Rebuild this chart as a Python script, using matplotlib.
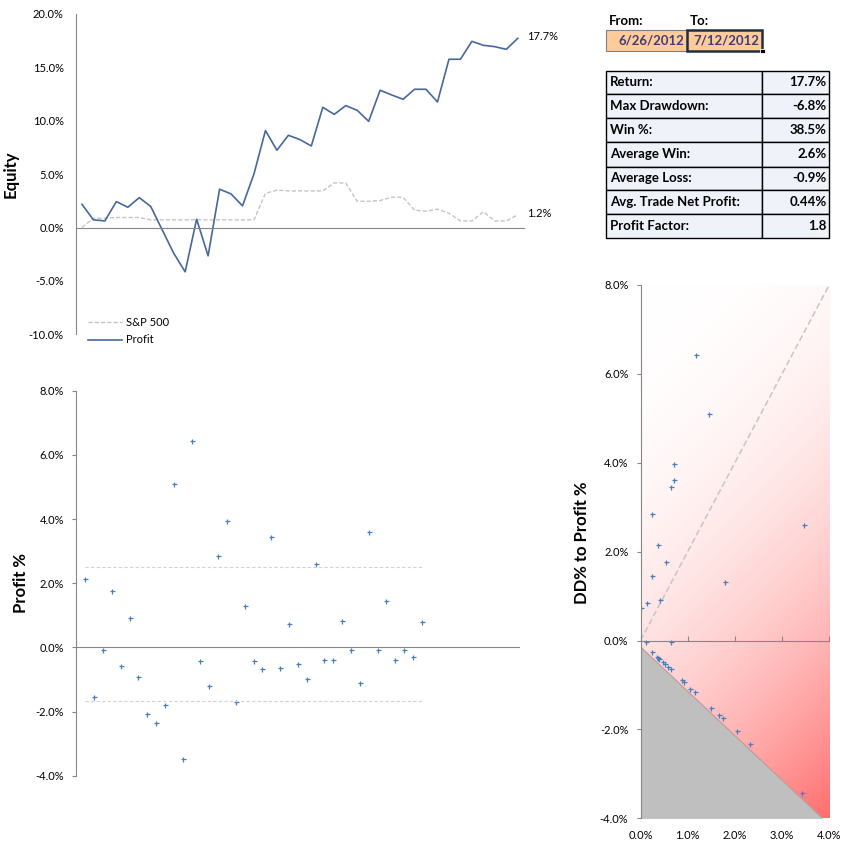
import numpy as np
import matplotlib.pyplot as plt
from matplotlib.patches import Rectangle
from matplotlib.ticker import FuncFormatter, MultipleLocator, FixedLocator

plt.rcParams['font.family'] = ['Lato', 'DejaVu Sans']

# ---- data ----
days = np.arange(39)
profit_equity = [2.18, 0.72, 0.62, 2.43, 1.90, 2.80, 1.97, -0.22, -2.40, -4.15,
                 0.78, -2.65, 3.59, 3.15, 2.03, 5.02, 9.08, 7.24, 8.64, 8.24,
                 7.64, 11.26, 10.60, 11.42, 10.98, 9.95, 12.86, 12.42, 12.01, 12.95,
                 12.95, 11.76, 15.76, 15.76, 17.44, 17.07, 16.94, 16.69, 17.72]
sp500_equity = [0.00, 0.87, 0.87, 0.94, 0.94, 0.94, 0.72, 0.72, 0.72, 0.72,
                0.72, 0.72, 0.72, 0.72, 0.72, 0.72, 3.20, 3.50, 3.43, 3.43,
                3.43, 3.43, 4.18, 4.18, 2.46, 2.46, 2.53, 2.84, 2.84, 1.62,
                1.53, 1.72, 1.34, 0.62, 0.62, 1.47, 0.62, 0.62, 1.19]
end_labels = ['17.7%', '1.2%']

trade_no = np.arange(1, 40)
trade_profit = [2.14, -1.54, -0.07, 1.77, -0.57, 0.93, -0.92, -2.07, -2.35, -1.79,
                5.08, -3.48, 6.42, -0.42, -1.20, 2.86, 3.95, -1.70, 1.30, -0.42,
                -0.67, 3.45, -0.63, 0.74, -0.51, -0.98, 2.61, -0.39, -0.39, 0.83,
                -0.07, -1.10, 3.61, -0.07, 1.46, -0.39, -0.07, -0.29, 0.80]
band_upper = 2.49
band_lower = -1.66

dd_x = [0.02, 0.145, 0.25, 0.25, 0.38, 0.41, 0.55, 0.65, 0.72, 0.72, 1.18, 1.46, 1.78, 3.47,
        0.12, 0.65,
        0.25, 0.35, 0.38, 0.40, 0.48, 0.52, 0.59, 0.65, 0.88, 0.93, 1.05, 1.16,
        1.50, 1.67, 1.75, 2.05, 2.33, 3.43]
dd_y = [0.74, 0.85, 1.45, 2.85, 2.15, 0.92, 1.77, 3.46, 3.98, 3.62, 6.43, 5.10, 1.31, 2.60,
        -0.04, -0.04,
        -0.26, -0.37, -0.39, -0.41, -0.49, -0.53, -0.60, -0.65, -0.89, -0.94, -1.08, -1.16,
        -1.52, -1.68, -1.75, -2.04, -2.33, -3.42]
floor_x = [0.0, 3.86]
floor_y = [-0.14, -4.0]
ratio_x = [0.0, 4.0]
ratio_y = [0.0, 8.0]
dd_ticks = [0, 1, 2, 3, 4]

date_from = '6/26/2012'
date_to = '7/12/2012'
stat_labels = ['Return:', 'Max Drawdown:', 'Win %:', 'Average Win:',
               'Average Loss:', 'Avg. Trade Net Profit:', 'Profit Factor:']
stat_values = ['17.7%', '-6.8%', '38.5%', '2.6%', '-0.9%', '0.44%', '1.8']

# ---- layout ----
FW, FH = 855, 851
fig = plt.figure(figsize=(FW / 100, FH / 100), dpi=100)


def px_axes(left, top, right, bottom, **kw):
    return fig.add_axes([left / FW, 1 - bottom / FH, (right - left) / FW, (bottom - top) / FH], **kw)


pct = FuncFormatter(lambda v, p: f'{v:.1f}%')
axis_grey = '#868686'
blue_line = '#46689C'
blue_mark = '#4A7EBB'
tick_fs = 8


def style_axes(ax):
    for s in ['top', 'right']:
        ax.spines[s].set_visible(False)
    for s in ['left', 'bottom']:
        ax.spines[s].set_color(axis_grey)
    ax.yaxis.set_major_formatter(pct)
    ax.tick_params(axis='y', colors=axis_grey, labelcolor='black', labelsize=tick_fs)


# equity chart
ax1 = px_axes(76.2, 14, 523.5, 334.3)
style_axes(ax1)
ax1.plot(days, sp500_equity, color='#C4C4C4', lw=1.0, ls=(0, (3, 1.5)), label='S&P 500')
ax1.plot(days, profit_equity, color=blue_line, lw=1.2, label='Profit')
ax1.set_xlim(-0.5, 38.5)
ax1.set_ylim(-10, 20)
ax1.yaxis.set_major_locator(MultipleLocator(5))
ax1.spines['bottom'].set_position(('data', 0))
ax1.set_xticks([])
ax1.tick_params(axis='y', length=0, pad=9)
ax1.set_ylabel('Equity', fontsize=12, fontweight='bold')
ax1.yaxis.set_label_coords(-0.129, 0.5)
for series, lab in zip([profit_equity, sp500_equity], end_labels):
    ax1.annotate(lab, xy=(days[-1], series[-1]), xytext=(7, 1), textcoords='offset points',
                 ha='left', va='center', fontsize=tick_fs)
ax1.legend(loc='center left', bbox_to_anchor=(88 / FW, 1 - 331.4 / FH), bbox_transform=fig.transFigure,
           frameon=False, fontsize=tick_fs, handlelength=3.1, handletextpad=0.35,
           labelspacing=0.55, borderpad=0, borderaxespad=0)

# trade profit scatter
ax2 = px_axes(76.4, 390.7, 519.3, 775.7)
style_axes(ax2)
ax2.plot(trade_no, trade_profit, ls='none', marker='+', ms=3.6, mew=0.9, color=blue_mark)
ax2.hlines([band_upper, band_lower], trade_no[0], trade_no[-1], colors='#D2D2D2', lw=0.8,
           linestyles=[(0, (3, 2))])
ax2.set_xlim(0, 50)
ax2.set_ylim(-4, 8)
ax2.yaxis.set_major_locator(MultipleLocator(2))
ax2.spines['bottom'].set_position(('data', 0))
ax2.set_xticks([])
ax2.tick_params(axis='y', direction='out', length=2.8, pad=6)
ax2.set_ylabel('Profit %', fontsize=12, fontweight='bold')
ax2.yaxis.set_label_coords(-0.107, 0.5)

# drawdown vs profit
ax3 = px_axes(640.5, 284.8, 829.3, 818.4)
style_axes(ax3)
gw, gh = 829.3 - 640.5, 818.4 - 284.8
u, v = np.meshgrid(np.linspace(0, 1, 200), np.linspace(0, 1, 500))
t = ((u * gw + v * gh) / (gw + gh)) ** 2.3
img = np.ones((500, 200, 3))
img[..., 1] = 1 - t * 0.57
img[..., 2] = 1 - t * 0.57
ax3.imshow(img, extent=[0, 4, -4, 8], origin='upper', aspect='auto', interpolation='bilinear', zorder=0)
ax3.fill_between(floor_x, floor_y, -4, color='#BFBFBF', lw=0, zorder=1)
ax3.plot(floor_x, floor_y, color='#C09A9A', lw=0.8, zorder=1.5)
ax3.plot(ratio_x, ratio_y, color='#C8C4C4', lw=1.1, ls=(0, (4, 2)), zorder=2)
ax3.plot(dd_x, dd_y, ls='none', marker='+', ms=3.6, mew=0.9, color=blue_mark, zorder=3)
ax3.set_xlim(0, 4)
ax3.set_ylim(-4, 8)
ax3.yaxis.set_major_locator(MultipleLocator(2))
ax3.xaxis.set_major_locator(FixedLocator(dd_ticks))
ax3.spines['bottom'].set_position(('data', 0))
ax3.spines['bottom'].set_zorder(4)
ax3.spines['left'].set_zorder(4)
ax3.tick_params(axis='y', direction='out', length=3.2, pad=5.5)
ax3.tick_params(axis='x', direction='in', length=3.4, colors=axis_grey, labelbottom=False)
sec = ax3.secondary_xaxis(0)
sec.xaxis.set_major_locator(FixedLocator(dd_ticks))
sec.xaxis.set_major_formatter(pct)
sec.spines['bottom'].set_visible(False)
sec.tick_params(axis='x', length=0, pad=8, labelsize=tick_fs)
ax3.set_ylabel('DD% to Profit %', fontsize=12, fontweight='bold')
ax3.yaxis.set_label_coords(-0.269, 0.516)

# date inputs and stats table (pixel coordinates)
axt = fig.add_axes([0, 0, 1, 1], zorder=-1)
axt.set_xlim(0, FW)
axt.set_ylim(FH, 0)
axt.axis('off')
tfs = 9.5
axt.text(609.3, 21.3, 'From:', fontsize=tfs, fontweight='bold', va='center')
axt.text(690, 21.3, 'To:', fontsize=tfs, fontweight='bold', va='center')
axt.add_patch(Rectangle((606, 30), 80.7, 20.7, facecolor='#FFCC99', edgecolor='#7F7F7F', lw=0.8))
axt.add_patch(Rectangle((686.7, 30), 75.6, 20.7, facecolor='#FFCC99', edgecolor='#1F2F44', lw=1.8))
axt.add_patch(Rectangle((760.3, 48.7), 4.5, 4.5, facecolor='black', edgecolor='white', lw=0.6))
axt.text(684, 40.8, date_from, fontsize=tfs, fontweight='bold', color='#3F3F76', ha='right', va='center')
axt.text(759, 40.8, date_to, fontsize=tfs, fontweight='bold', color='#3F3F76', ha='right', va='center')

row_edges = [70.7, 94.3, 118.3, 142.3, 166.7, 190, 214, 238.3]
for k, (lab, val) in enumerate(zip(stat_labels, stat_values)):
    y0, y1 = row_edges[k], row_edges[k + 1]
    axt.add_patch(Rectangle((606, y0), 156.3, y1 - y0, facecolor='#EFF3F9', edgecolor='black', lw=1))
    axt.add_patch(Rectangle((762.3, y0), 67, y1 - y0, facecolor='#EFF3F9', edgecolor='black', lw=1))
    ym = (y0 + y1) / 2
    axt.text(610, ym, lab, fontsize=tfs, fontweight='bold', va='center')
    axt.text(826.7, ym, val, fontsize=tfs, fontweight='bold', va='center', ha='right')

fig.savefig('out.png', dpi=100)
